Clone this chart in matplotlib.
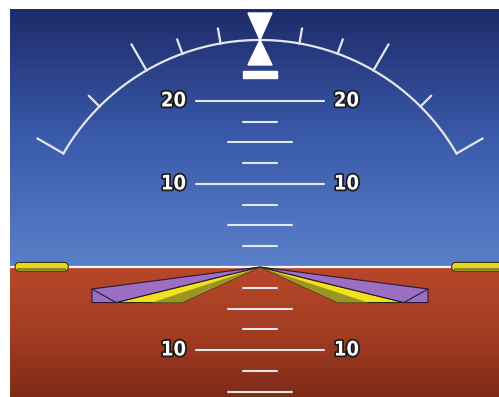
import numpy as np
import matplotlib
matplotlib.use("Agg")
import matplotlib.pyplot as plt
import matplotlib.patheffects as pe
from matplotlib.patches import Polygon, FancyBboxPatch
from matplotlib.colors import LinearSegmentedColormap

# pitch ladder (degrees) and bank scale (degrees)
pitch_lines = [-15, -12.5, -10, -7.5, -5, -2.5, 2.5, 5, 7.5, 10, 12.5, 15, 17.5, 20]
pitch_labels = [-10, 10, 20]
bank_ticks = [10, 20, 30, 45, 60]
bank_long = [30, 60]
arc_radius = 27.35

sky_top = "#1e2a6a"
sky_low = "#5a80c8"
ground_top = "#b8472a"
ground_low = "#7e2c18"
line_col = "#e6e6ee"

fig = plt.figure(figsize=(4.99, 3.97), dpi=100)
ax = fig.add_axes([10 / 499, 0, 489 / 499, 388 / 397])
ax.set_xlim(-30.12, 28.8)
ax.set_ylim(-15.66, 31.08)
ax.axis("off")

# sky and ground gradients
grad = np.linspace(0, 1, 256).reshape(-1, 1)
sky_cmap = LinearSegmentedColormap.from_list("sky", [sky_low, "#3a5aaa", sky_top])
gnd_cmap = LinearSegmentedColormap.from_list("gnd", [ground_top, "#a33d22", ground_low])
ax.imshow(grad, extent=[-30.12, 28.8, 0, 31.08], origin="lower", cmap=sky_cmap,
          aspect="auto", zorder=0)
ax.imshow(grad[::-1], extent=[-30.12, 28.8, -15.66, 0], origin="lower", cmap=gnd_cmap,
          aspect="auto", zorder=0)
ax.axhline(0, color="#f2f2f8", lw=1.6, zorder=1)

# pitch ladder
for p in pitch_lines:
    if p % 10 == 0:
        hw = 7.7
    elif p % 5 == 0:
        hw = 3.9
    else:
        hw = 2.0
    ax.plot([-hw, hw], [p, p], color=line_col, lw=1.5, solid_capstyle="round", zorder=2)

outline = [pe.withStroke(linewidth=2.5, foreground="#1a1a1a")]
for p in pitch_labels:
    lab = str(abs(p))
    for x, ha in ((-8.9, "right"), (8.9, "left")):
        ax.text(x, p, lab, ha=ha, va="center", color="white", fontsize=14.5,
                fontweight="bold", fontstretch="condensed", path_effects=outline, zorder=3)

# bank arc
th = np.radians(np.linspace(-60, 60, 200))
ax.plot(arc_radius * np.sin(th), arc_radius * np.cos(th), color=line_col, lw=1.6, zorder=2)
for b in bank_ticks:
    ln = 3.6 if b in bank_long else 1.8
    for s in (-1, 1):
        a = np.radians(s * b)
        r = np.array([arc_radius, arc_radius + ln])
        ax.plot(r * np.sin(a), r * np.cos(a), color=line_col, lw=1.6, zorder=2)

# roll pointer and slip indicator
ax.add_patch(Polygon([(-1.45, 30.6), (1.45, 30.6), (0, arc_radius)], color="white", zorder=4))
ax.add_patch(Polygon([(0, arc_radius), (-1.45, 24.34), (1.45, 24.34)], color="white", zorder=4))
ax.add_patch(Polygon([(-2.1, 23.6), (2.1, 23.6), (2.1, 22.8), (-2.1, 22.8)], color="white", zorder=4))

# aircraft symbol
for s in (-1, 1):
    yel = Polygon([(0, 0), (s * 17.35, -4.28), (s * 9.4, -4.28)], closed=True,
                  facecolor="#f2e21c", edgecolor="#2a2a10", lw=0.8, zorder=5)
    olv = Polygon([(0, 0), (s * 13.0, -4.28), (s * 9.4, -4.28)], closed=True,
                  facecolor="#9c9426", edgecolor="none", zorder=5)
    pur = Polygon([(0, 0), (s * 20.24, -2.65), (s * 20.24, -4.28), (s * 17.35, -4.28)],
                  closed=True, facecolor="#9c6fc4", edgecolor="#2a1a30", lw=0.8, zorder=6)
    ax.add_patch(yel)
    ax.add_patch(olv)
    ax.add_patch(pur)
    ax.plot([s * 20.24, s * 17.35], [-2.65, -4.28], color="#2a1a30", lw=0.8, zorder=7)

# side markers
for x0 in (-29.5, 23.1):
    ax.add_patch(FancyBboxPatch((x0, -0.5), 6.4, 1.05, boxstyle="round,pad=0,rounding_size=0.5",
                                facecolor="#e8d625", edgecolor="#3a3410", lw=0.8, zorder=5))
    ax.plot([x0 + 0.4, x0 + 6.0], [-0.3, -0.3], color="#8f861f", lw=1.5, zorder=6)

fig.savefig("out.png", dpi=100, facecolor="white")
